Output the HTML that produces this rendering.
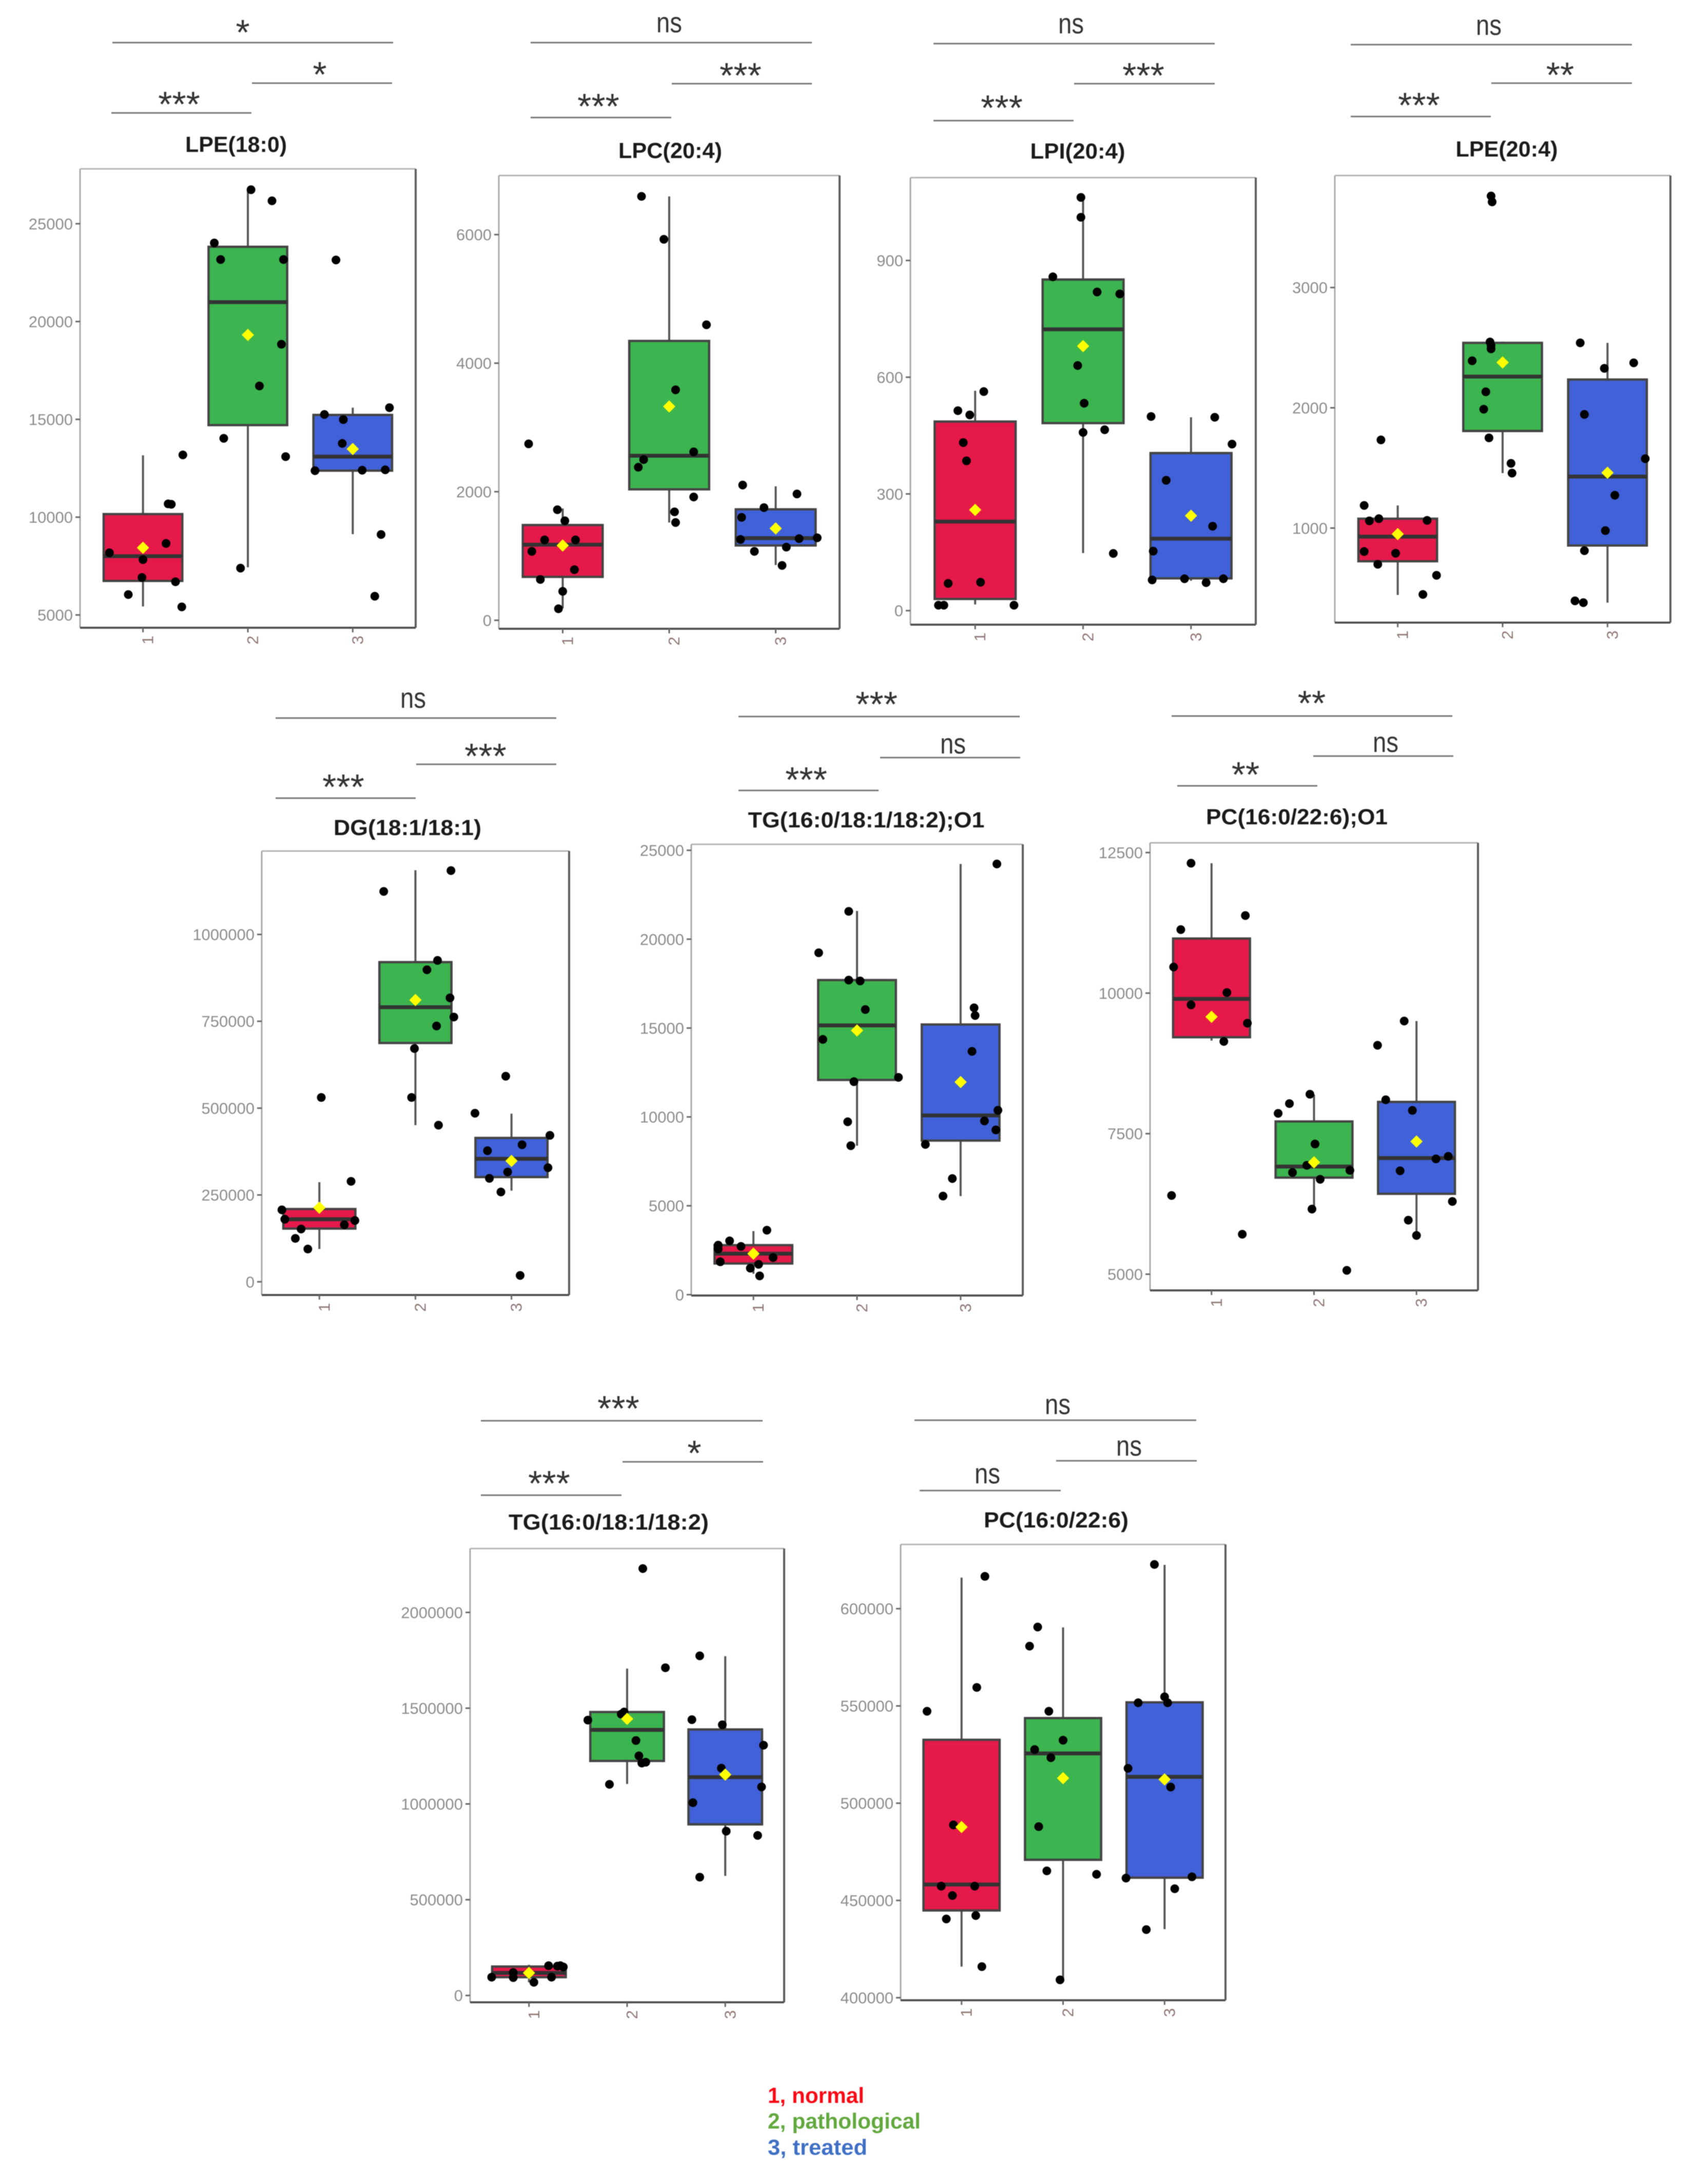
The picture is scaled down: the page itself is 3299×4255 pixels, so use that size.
<!DOCTYPE html>
<html lang="en">
<head>
<meta charset="utf-8">
<title>Lipid box plots by group</title>
<style>
  html, body { margin: 0; padding: 0; background: #fff; }
  svg { display: block; filter: blur(0.9px); }
  text { font-family: "Liberation Sans", "DejaVu Sans", sans-serif; }
  .title { font-size: 43px; font-weight: bold; fill: #1a1a1a; text-anchor: middle; }
  .star { font-size: 70px; fill: #333; text-anchor: middle; transform: translateY(-8px); }
  .ns { font-size: 56px; fill: #333; text-anchor: middle; transform: translateY(3px); }
  .bracket { stroke: #777; stroke-width: 3; }
  .ytick { font-size: 31px; fill: #8c8c8c; text-anchor: end; }
  .xtick { font-size: 31px; fill: #8f7777; text-anchor: middle; }
  .legend { font-size: 43px; font-weight: bold; }
</style>
</head>
<body>
<svg id="figure" xmlns="http://www.w3.org/2000/svg" width="3299" height="4255" viewBox="0 0 3299 4255">
  <rect width="3299" height="4255" fill="#fff"/>
  <g id="plots"></g>

  <g>
    <text class="title" x="460" y="296" textLength="198" lengthAdjust="spacingAndGlyphs">LPE(18:0)</text>
    <text class="title" x="1306" y="308" textLength="202" lengthAdjust="spacingAndGlyphs">LPC(20:4)</text>
    <text class="title" x="2100" y="309" textLength="185" lengthAdjust="spacingAndGlyphs">LPI(20:4)</text>
    <text class="title" x="2936" y="305" textLength="199" lengthAdjust="spacingAndGlyphs">LPE(20:4)</text>
    <text class="title" x="794" y="1627" textLength="288" lengthAdjust="spacingAndGlyphs">DG(18:1/18:1)</text>
    <text class="title" x="1688" y="1612" textLength="461" lengthAdjust="spacingAndGlyphs">TG(16:0/18:1/18:2);O1</text>
    <text class="title" x="2527" y="1606" textLength="354" lengthAdjust="spacingAndGlyphs">PC(16:0/22:6);O1</text>
    <text class="title" x="1186" y="2980" textLength="390" lengthAdjust="spacingAndGlyphs">TG(16:0/18:1/18:2)</text>
    <text class="title" x="2058" y="2976" textLength="282" lengthAdjust="spacingAndGlyphs">PC(16:0/22:6)</text>
  </g>

  <g>
    <line class="bracket" x1="219" x2="766" y1="83" y2="83"/>
    <text class="star" x="473" y="95">*</text>
    <line class="bracket" x1="491" x2="764" y1="162" y2="162"/>
    <text class="star" x="623" y="177">*</text>
    <line class="bracket" x1="217" x2="490" y1="220" y2="220"/>
    <text class="star" x="349" y="235">***</text>

    <line class="bracket" x1="1034" x2="1582" y1="83" y2="83"/>
    <text class="ns" x="1304" y="60" textLength="50" lengthAdjust="spacingAndGlyphs">ns</text>
    <line class="bracket" x1="1309" x2="1582" y1="163" y2="163"/>
    <text class="star" x="1443" y="179">***</text>
    <line class="bracket" x1="1034" x2="1308" y1="229" y2="229"/>
    <text class="star" x="1166" y="239">***</text>

    <line class="bracket" x1="1819" x2="2367" y1="85" y2="85"/>
    <text class="ns" x="2087" y="62" textLength="50" lengthAdjust="spacingAndGlyphs">ns</text>
    <line class="bracket" x1="2093" x2="2367" y1="163" y2="163"/>
    <text class="star" x="2228" y="179">***</text>
    <line class="bracket" x1="1819" x2="2092" y1="235" y2="235"/>
    <text class="star" x="1952" y="242">***</text>

    <line class="bracket" x1="2632" x2="3180" y1="87" y2="87"/>
    <text class="ns" x="2901" y="65" textLength="50" lengthAdjust="spacingAndGlyphs">ns</text>
    <line class="bracket" x1="2906" x2="3180" y1="162" y2="162"/>
    <text class="star" x="3040" y="178">**</text>
    <line class="bracket" x1="2632" x2="2905" y1="227" y2="227"/>
    <text class="star" x="2765" y="237">***</text>

    <line class="bracket" x1="537" x2="1084" y1="1399" y2="1399"/>
    <text class="ns" x="805" y="1376" textLength="50" lengthAdjust="spacingAndGlyphs">ns</text>
    <line class="bracket" x1="811" x2="1084" y1="1489" y2="1489"/>
    <text class="star" x="946" y="1505">***</text>
    <line class="bracket" x1="537" x2="810" y1="1555" y2="1555"/>
    <text class="star" x="669" y="1565">***</text>

    <line class="bracket" x1="1439" x2="1987" y1="1396" y2="1396"/>
    <text class="star" x="1708" y="1404">***</text>
    <line class="bracket" x1="1715" x2="1988" y1="1476" y2="1476"/>
    <text class="ns" x="1857" y="1465" textLength="50" lengthAdjust="spacingAndGlyphs">ns</text>
    <line class="bracket" x1="1439" x2="1712" y1="1540" y2="1540"/>
    <text class="star" x="1571" y="1551">***</text>

    <line class="bracket" x1="2283" x2="2830" y1="1395" y2="1395"/>
    <text class="star" x="2556" y="1402">**</text>
    <line class="bracket" x1="2559" x2="2832" y1="1473" y2="1473"/>
    <text class="ns" x="2700" y="1462" textLength="50" lengthAdjust="spacingAndGlyphs">ns</text>
    <line class="bracket" x1="2294" x2="2567" y1="1531" y2="1531"/>
    <text class="star" x="2427" y="1541">**</text>

    <line class="bracket" x1="937" x2="1486" y1="2768" y2="2768"/>
    <text class="star" x="1205" y="2776">***</text>
    <line class="bracket" x1="1213" x2="1487" y1="2848" y2="2848"/>
    <text class="star" x="1353" y="2863">*</text>
    <line class="bracket" x1="937" x2="1211" y1="2913" y2="2913"/>
    <text class="star" x="1070" y="2922">***</text>

    <line class="bracket" x1="1782" x2="2331" y1="2767" y2="2767"/>
    <text class="ns" x="2061" y="2752" textLength="50" lengthAdjust="spacingAndGlyphs">ns</text>
    <line class="bracket" x1="2058" x2="2332" y1="2846" y2="2846"/>
    <text class="ns" x="2200" y="2833" textLength="50" lengthAdjust="spacingAndGlyphs">ns</text>
    <line class="bracket" x1="1792" x2="2067" y1="2904" y2="2904"/>
    <text class="ns" x="1924" y="2887" textLength="50" lengthAdjust="spacingAndGlyphs">ns</text>
  </g>

  <g>
    <text class="legend" x="1496" y="4097" fill="#f60a14" textLength="188" lengthAdjust="spacingAndGlyphs">1, normal</text>
    <text class="legend" x="1496" y="4147" fill="#62a83f" textLength="298" lengthAdjust="spacingAndGlyphs">2, pathological</text>
    <text class="legend" x="1496" y="4198" fill="#3f6fc4" textLength="194" lengthAdjust="spacingAndGlyphs">3, treated</text>
  </g>
</svg>

<script>
// ---------- chart data ----------
const categories = ['1', '2', '3'];
const panelNames = ['lpe-18-0', 'lpc-20-4', 'lpi-20-4', 'lpe-20-4', 'dg', 'tg-o1', 'pc-o1', 'tg', 'pc'];

const yTicks = [
  [5000, 10000, 15000, 20000, 25000],
  [0, 2000, 4000, 6000],
  [0, 300, 600, 900],
  [1000, 2000, 3000],
  [0, 250000, 500000, 750000, 1000000],
  [0, 5000, 10000, 15000, 20000, 25000],
  [5000, 7500, 10000, 12500],
  [0, 500000, 1000000, 1500000, 2000000],
  [400000, 450000, 500000, 550000, 600000]
];

const yLimits = [
  [4347, 27805], [-132, 6919], [-36, 1113], [214, 3931],
  [-37990, 1240200], [-48, 25336], [4712, 12674],
  [-35555, 2333310], [398690, 633020]
];

const q1Values = [
  [6741, 14705, 12377], [675, 2037, 1164], [30, 482, 83], [724, 1807, 855],
  [153188, 687500, 301470], [1753, 12080, 8670], [9215, 6718, 6430],
  [95555, 1224440, 893330], [444850, 470890, 461700]
];
const medianValues = [
  [8003, 20994, 13095], [1177, 2560, 1277], [229, 723, 185], [929, 2260, 1428],
  [180150, 790450, 354170], [2305, 15150, 10086], [9897, 6915, 7066],
  [117780, 1386670, 1140000], [458200, 525600, 513560]
];
const q3Values = [
  [10157, 23822, 15227], [1482, 4346, 1726], [486, 851, 405], [1078, 2540, 2235],
  [209560, 920350, 414220], [2786, 17700, 15200], [10971, 7717, 8065],
  [151110, 1480000, 1388890], [532590, 543750, 551850]
];
const whiskerLow = [
  [5435, 7437, 9134], [185, 1521, 860], [16, 148, 77], [444, 1457, 380],
  [94360, 451000, 262260], [1177, 8380, 5547], [9155, 6158, 5689],
  [68890, 1104440, 624440], [415970, 409190, 435230]
];
const whiskerHigh = [
  [13160, 26738, 15597], [1740, 6595, 2084], [565, 1062, 497], [1188, 2550, 2540],
  [286770, 1185000, 484070], [3578, 21590, 24230], [12311, 8194, 9503],
  [160000, 1706670, 1771110], [615960, 590360, 622520]
];
const meanValues = [
  [8438, 19318, 13486], [1164, 3327, 1429], [259, 680, 244], [950, 2377, 1460],
  [213240, 811280, 348040], [2305, 14865, 11960], [9579, 6990, 7361],
  [117780, 1444440, 1153330], [487740, 512900, 512240]
];

// individual sample values: one array per panel, per group
const sampleValues = [
  [[8177,7829,6915,6044,8656,6697,5413,13182,10679,10658],
   [26738,26172,24018,23170,23170,18839,16707,14030,13095,7394],
   [23148,15597,15249,14988,13769,12377,12398,12420,9113,5957]],
  [[2745,1720,1548,1250,1250,1072,787,635,450,179],
   [6595,5927,4597,3585,2620,2500,2381,1918,1687,1521],
   [2104,1965,1753,1601,1257,1270,1283,1072,1138,853]],
  [[563,514,503,432,385,70,73,14,14,14],
   [1062,1011,858,819,814,630,533,458,465,147],
   [499,497,428,335,217,153,79,82,72,82]],
  [[1733,1188,1060,1078,1064,805,791,699,607,448],
   [3761,3712,2547,2519,2490,2391,2133,1988,1750,1538,1457],
   [2540,2328,2374,1945,1577,1273,979,812,395,380]],
  [[530650,289220,207110,180150,151960,125000,94360,164220,176470],
   [1183830,1123800,925250,898300,817400,762260,736530,671570,530650,450980],
   [591900,485300,421570,394610,377460,328430,316180,297800,258580,18380]],
  [[3626,3026,2714,2786,2570,1849,2089,1489,1705,1057],
   [19236,14361,21565,17699,17651,16042,12224,11983,9726,8381],
   [24231,16138,15706,13689,10374,9774,9270,8453,5547,6532]],
  [[12311,11380,11130,10464,10010,9791,9465,9140,6400,5711],
   [8201,8035,7861,7316,6937,6809,6847,6688,6158,5068],
   [9503,9072,8103,7914,7096,7051,6839,6294,5961,5689]],
  [[95560,120000,93330,68890,155550,95560,153330,155550,148890],
   [2228880,1711100,1480000,1468880,1437770,1331100,1251100,1213330,1217770,1102220],
   [1773330,1440000,1413330,1306660,1186660,1088880,1006660,857770,835550,617770]],
  [[616610,559510,547250,488830,457330,457330,452510,440480,442230,415970],
   [590570,580730,547250,532370,527560,523400,487960,465200,463450,409190],
   [622740,554690,551630,551630,517930,508310,461480,462140,456010,435010]]
];

// horizontal jitter of each sample, in category units
const sampleJitter = [
  [[-.32,0,-.01,-.14,.22,.31,.37,.38,.24,.27],
   [.03,.23,-.32,-.26,.34,.32,.11,-.23,.36,-.07],
   [-.16,.35,-.27,-.09,-.10,-.36,.09,.31,.27,.21]],
  [[-.32,-.05,.02,-.17,.12,-.29,.11,-.21,0,-.04],
   [-.26,-.05,.35,.06,.23,-.24,-.29,.23,.05,.06],
   [-.31,.20,-.11,-.32,-.33,.22,.39,-.20,.10,.06]],
  [[.08,-.16,-.05,-.11,-.08,-.25,.05,-.34,-.29,.36],
   [-.02,-.02,-.28,.13,.34,-.05,.01,0,.20,.28],
   [-.37,.22,.38,-.23,.20,-.35,-.36,-.06,.14,.30]],
  [[-.16,-.32,-.27,-.18,.28,-.32,-.02,-.19,.37,.24],
   [-.11,-.10,-.12,-.11,-.11,-.29,-.16,-.18,-.13,.08,.09],
   [-.26,-.03,.25,-.22,.36,.07,-.02,-.22,-.31,-.23]],
  [[.02,.33,-.39,-.36,-.19,-.25,-.12,.26,.37],
   [.37,-.33,.23,.12,.36,.40,.22,-.01,-.04,.24],
   [-.06,-.38,.40,.11,-.25,.38,-.04,-.23,-.11,.09]],
  [[.13,-.23,-.12,-.34,-.34,-.32,.19,-.03,.05,.06],
   [-.37,-.33,-.08,-.08,.03,.08,.40,-.03,-.09,-.06],
   [.35,.13,.14,.11,.36,.23,.34,-.34,-.17,-.08]],
  [[-.20,.33,-.30,-.37,.15,-.20,.35,.12,-.39,.30],
   [-.04,-.24,-.35,.01,-.07,-.21,.35,.06,-.02,.32],
   [-.12,-.38,-.30,-.04,.31,.19,-.16,.35,-.08,0]],
  [[-.38,-.16,-.16,.05,.20,.23,.29,.32,.35],
   [.16,.39,-.03,-.06,-.40,.09,.12,.15,.19,-.18],
   [-.26,-.34,-.03,.39,-.04,.37,-.33,.01,.33,-.26]],
  [[.23,.15,-.34,-.08,-.20,.13,-.09,-.15,.14,.20],
   [-.25,-.33,-.14,0,-.28,-.12,-.24,-.16,.33,-.03],
   [-.10,0,-.26,.03,-.36,.06,-.38,.27,.10,-.18]]
];

// ---------- layout (not data) ----------
const panelFrames = [
  {l:156,  t:329,  r:810,  b:1223},
  {l:972,  t:342,  r:1636, b:1225},
  {l:1774, t:346,  r:2447, b:1217},
  {l:2601, t:342,  r:3255, b:1213},
  {l:510,  t:1658, r:1109, b:2523},
  {l:1347, t:1645, r:1993, b:2524},
  {l:2241, t:1642, r:2880, b:2514},
  {l:916,  t:3017, r:1528, b:3901},
  {l:1755, t:3009, r:2388, b:3897}
];
const groupColors = ['#e5194a', '#3cb44f', '#4161d8'];
const BOX_WIDTH = 0.75;
const NS = 'http://www.w3.org/2000/svg';

function make(parent, tag, attrs) {
  const el = document.createElementNS(NS, tag);
  for (const k in attrs) el.setAttribute(k, attrs[k]);
  parent.appendChild(el);
  return el;
}

function xScale(frame, position) {
  const unit = (frame.r - frame.l) / 3.2;
  return frame.l + (position + 0.6) * unit;
}

function yScale(frame, limits, value) {
  return frame.b - (value - limits[0]) / (limits[1] - limits[0]) * (frame.b - frame.t);
}

function drawPanel(root, p) {
  const frame = panelFrames[p];
  const limits = yLimits[p];
  const name = panelNames[p];
  const y = function (v) { return yScale(frame, limits, v); };
  const x = function (pos) { return xScale(frame, pos); };

  const g = make(root, 'g', {});
  
  

  const bg = make(g, 'rect', {x: frame.l, y: frame.t, width: frame.r - frame.l, height: frame.b - frame.t, fill: '#fff'});
  
  

  const sides = [
    [frame.l, frame.t, frame.r, frame.t, '#b4b4b4', 3],
    [frame.l, frame.t, frame.l, frame.b, '#a8a8a8', 3],
    [frame.r, frame.t, frame.r, frame.b, '#5c5c5c', 4],
    [frame.l, frame.b, frame.r, frame.b, '#4f4f4f', 4]
  ];
  sides.forEach(function (s) {
    const side = make(g, 'line', {x1: s[0], y1: s[1], x2: s[2], y2: s[3], stroke: s[4], 'stroke-width': s[5]});
    
    
  });

  yTicks[p].forEach(function (v) {
    const tick = make(g, 'line', {x1: frame.l - 9, x2: frame.l, y1: y(v), y2: y(v), stroke: '#666', 'stroke-width': 3});
    
    
    const label = make(g, 'text', {x: frame.l - 14, y: y(v) + 11, class: 'ytick'});
    
    
    label.textContent = String(v);
  });

  categories.forEach(function (cat, i) {
    const cx = x(i);
    const half = BOX_WIDTH / 2;
    const boxLeft = x(i - half);
    const boxRight = x(i + half);

    const tick = make(g, 'line', {x1: cx, x2: cx, y1: frame.b, y2: frame.b + 9, stroke: '#666', 'stroke-width': 3});
    
    

    const label = make(g, 'text', {class: 'xtick', transform: 'translate(' + (cx + 20) + ',' + (frame.b + 24) + ') rotate(-90)'});
    
    
    label.textContent = cat;

    const whisker = make(g, 'line', {x1: cx, x2: cx, y1: y(whiskerLow[p][i]), y2: y(whiskerHigh[p][i]), stroke: '#555', 'stroke-width': 4});
    
    

    const box = make(g, 'rect', {
      x: boxLeft, width: boxRight - boxLeft,
      y: y(q3Values[p][i]), height: y(q1Values[p][i]) - y(q3Values[p][i]),
      fill: groupColors[i], stroke: '#444', 'stroke-width': 4.5
    });
    
    

    const median = make(g, 'line', {x1: boxLeft, x2: boxRight, y1: y(medianValues[p][i]), y2: y(medianValues[p][i]), stroke: '#333', 'stroke-width': 7.5});
    
    

    sampleValues[p][i].forEach(function (v, k) {
      const dot = make(g, 'circle', {cx: x(i + sampleJitter[p][i][k]), cy: y(v), r: 8.5, fill: '#000'});
      
      
    });

    const mx = cx;
    const my = y(meanValues[p][i]);
    const diamond = make(g, 'polygon', {
      points: (mx - 12) + ',' + my + ' ' + mx + ',' + (my - 12) + ' ' + (mx + 12) + ',' + my + ' ' + mx + ',' + (my + 12),
      fill: '#ffff00'
    });
    
    
  });
}

const plotsRoot = document.getElementById('plots');
panelFrames.forEach(function (f, p) { drawPanel(plotsRoot, p); });
</script>
</body>
</html>
